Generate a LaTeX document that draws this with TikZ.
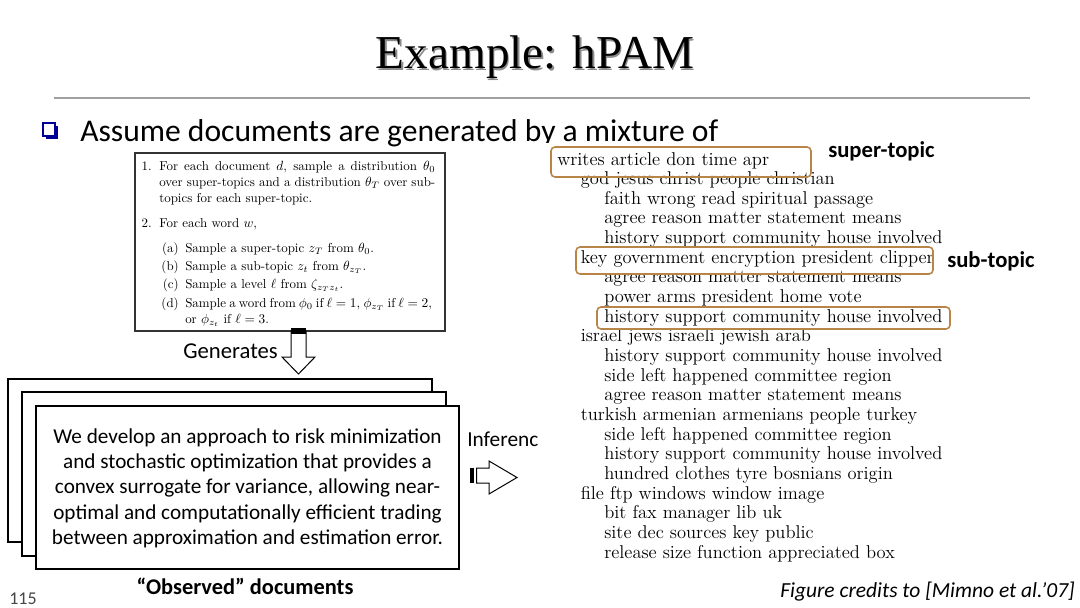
\documentclass[tikz,border=0pt]{standalone}
\usepackage{fontspec}
\setmainfont{Carlito}
\newfontfamily\timesfont{Liberation Serif}
\newfontfamily\lmfont{Latin Modern Roman}
\definecolor{topicbox}{RGB}{185,132,72}
\definecolor{bulletblue}{RGB}{0,0,150}
\definecolor{rulegray}{RGB}{160,160,160}
\definecolor{numgray}{RGB}{70,70,70}
\tikzset{
  alg/.style={inner sep=0pt, font=\lmfont\fontsize{9.7}{12}\selectfont},
  topic/.style={inner sep=0pt, anchor=base west, font=\lmfont\fontsize{13.9}{15}\selectfont},
  obox/.style={draw=topicbox, line width=1.2pt, rounded corners=3pt},
  docbox/.style={draw=black, fill=white, line width=1.5pt},
  blockarrow/.style={draw=black, fill=white, line width=0.75pt, line join=miter},
  lbl/.style={inner sep=0pt, anchor=base west, font=\bfseries\fontsize{17}{20}\selectfont},
}
\begin{document}
\begin{tikzpicture}[x=0.75pt,y=-0.75pt]
\useasboundingbox (0,0) rectangle (1080,607);
\fill[white] (0,0) rectangle (1080,607);
% title
\node[inner sep=0pt, anchor=base, text=black!45, font=\timesfont\fontsize{35.4}{40}\selectfont] (titleshadow) at (536.5,70) {Example: hPAM};
\node[inner sep=0pt, anchor=base, font=\timesfont\fontsize{35.4}{40}\selectfont] (title) at (535,68.5) {Example: hPAM};
\draw[rulegray, line width=1.5pt] (54,98) -- (1030,98);
% bullet
\fill[bulletblue] (45.5,125.5) rectangle (57.5,138.5);
\filldraw[fill=white, draw=bulletblue, line width=1.1pt] (43,123) rectangle (55,136);
\node[inner sep=0pt, anchor=base west, font=\fontsize{23.7}{28}\selectfont] (bullet) at (80,141) {Assume documents are generated by a mixture of};
% inference label (clipped by the figure)
\node[inner sep=0pt, anchor=base west, font=\fontsize{16}{19}\selectfont] (inflabel) at (467,446) {Inference};
% white figure area
\fill[white] (539,143) rectangle (1045,575);
% algorithm box
\draw[black!80, line width=1.1pt] (135,153) rectangle (445,331);
\node[alg, anchor=base east] (n1) at (152,170.7) {1.};
\node[alg, anchor=base west] (i1) at (159,170.7) {\parbox[t]{207pt}{For each document $d$, sample a distribution $\theta_0$ over super-topics and a distribution $\theta_T$ over sub-topics for each super-topic.}};
\node[alg, anchor=base east] (n2) at (152,227) {2.};
\node[alg, anchor=base west] (i2) at (159,227) {For each word $w$,};
\node[alg, anchor=base east] (na) at (179,252) {(a)};
\node[alg, anchor=base west] (ia) at (185,252) {Sample a super-topic $z_T$ from $\theta_0$.};
\node[alg, anchor=base east] (nb) at (179,270) {(b)};
\node[alg, anchor=base west] (ib) at (185,270) {Sample a sub-topic $z_t$ from $\theta_{z_T}$.};
\node[alg, anchor=base east] (nc) at (179,288) {(c)};
\node[alg, anchor=base west] (ic) at (185,288) {Sample a level $\ell$ from $\zeta_{z_T z_t}$.};
\node[alg, anchor=base east] (nd) at (179,307) {(d)};
\node[alg, anchor=base west] (id) at (185,307) {\parbox[t]{185pt}{Sample a word from $\phi_0$ if $\ell=1$, $\phi_{z_T}$ if $\ell=2$, or $\phi_{z_t}$ if $\ell=3$.}};
% generates arrow
\filldraw[blockarrow] (291,331) -- (306,331) -- (306,357) -- (315,357) -- (298.5,374) -- (282,357) -- (291,357) -- cycle;
\fill[black] (291,328) rectangle (306,333.5);
\node[inner sep=0pt, anchor=base east, font=\fontsize{17}{20}\selectfont] (gen) at (278,358) {Generates};
% document stack
\draw[docbox] (8,379) rectangle (432,542);
\draw[docbox] (22,392) rectangle (446,556);
\draw[docbox] (36,406) rectangle (459,569);
\node[inner sep=0pt, anchor=base] (doctext) at (247.5,443) {\parbox[t]{320pt}{\centering\fontsize{15.9}{19.1}\selectfont We develop an approach to risk minimization\\ and stochastic optimization that provides a\\ convex surrogate for variance, allowing near-\\ optimal and computationally efficient trading\\ between approximation and estimation error.}};
\node[inner sep=0pt, anchor=base, font=\bfseries\fontsize{16.8}{20}\selectfont] (obs) at (245,594) {“Observed” documents};
\node[inner sep=0pt, anchor=base west, text=numgray, font=\fontsize{13.5}{15}\selectfont] (pnum) at (9,604) {115};
% inference arrow
\filldraw[blockarrow] (476.5,468) -- (489,468) -- (489,461) -- (517,477.5) -- (489,494) -- (489,483) -- (476.5,483) -- cycle;
\fill[black] (470,468) rectangle (474,483);
% topic list
\foreach \lev/\txt [count=\i from 0] in {
0/writes article don time apr,
1/god jesus christ people christian,
2/faith wrong read spiritual passage,
2/agree reason matter statement means,
2/history support community house involved,
1/key government encryption president clipper,
2/agree reason matter statement means,
2/power arms president home vote,
2/history support community house involved,
1/israel jews israeli jewish arab,
2/history support community house involved,
2/side left happened committee region,
2/agree reason matter statement means,
1/turkish armenian armenians people turkey,
2/side left happened committee region,
2/history support community house involved,
2/hundred clothes tyre bosnians origin,
1/file ftp windows window image,
2/bit fax manager lib uk,
2/site dec sources key public,
2/release size function appreciated box}{
  \node[topic] (t\i) at ({557+23.5*\lev},{165+19.65*\i}) {\txt};
}
\draw[obox] (551,147) rectangle (811,177);
\draw[obox] (576,247) rectangle (933,274);
\draw[obox] (597,307) rectangle (950,329);
\node[lbl] (sup) at (828,157) {super-topic};
\node[lbl] (sub) at (947,267) {sub-topic};
\node[inner sep=0pt, anchor=base east, font=\itshape\fontsize{16.1}{19}\selectfont] (credit) at (1075,597) {Figure credits to [Mimno et al.’07]};
\end{tikzpicture}
\end{document}
